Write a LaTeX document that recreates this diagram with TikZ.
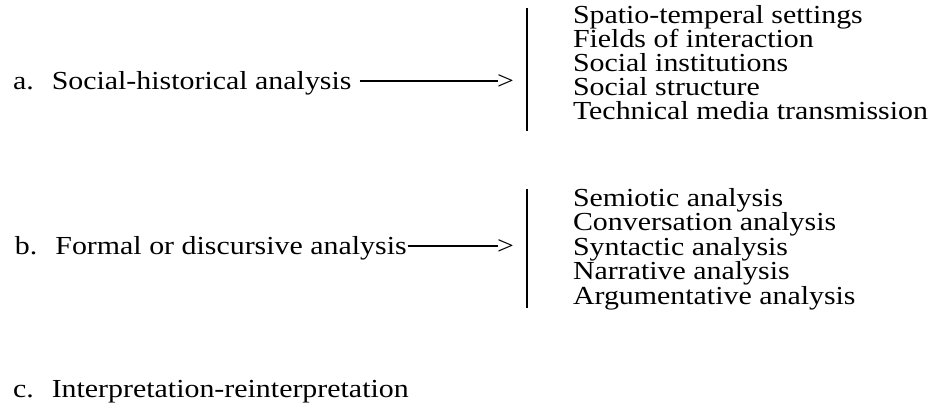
\documentclass[tikz,border=0pt]{standalone}
\usepackage{fontspec}
\setmainfont[FakeStretch=1.15]{Liberation Serif}
\begin{document}
\begin{tikzpicture}[x=1pt,y=-1pt,
  every node/.style={inner sep=0pt,outer sep=0pt,anchor=base west,font=\fontsize{26}{26}\selectfont},
  bar/.style={line width=2.4pt},
  conn/.style={line width=1.4pt}]
\useasboundingbox (0,0) rectangle (935,416);
% left labels
\node (a) at (13,89) {a.\hspace{18pt}Social-historical analysis};
\node (b) at (15,254) {b.\hspace{18pt}Formal or discursive analysis};
\node (c) at (13,397) {c.\hspace{18pt}Interpretation-reinterpretation};
% arrow tips
\node (atip) at (497,89) {>};
\node (btip) at (497,254) {>};
% connectors
\draw[conn] ([xshift=8pt,yshift=8pt]a.base east) -- ([xshift=1pt,yshift=8pt]atip.base west);
\draw[conn] ([xshift=1pt,yshift=8pt]b.base east) -- ([xshift=1pt,yshift=8pt]btip.base west);
% bars
\coordinate (b1t) at (527,8);
\coordinate (b1b) at (527,131);
\coordinate (b2t) at (527,189);
\coordinate (b2b) at (527,308);
\draw[bar] (b1t) -- (b1b);
\draw[bar] (b2t) -- (b2b);
% group 1
\node (s1) at (573,23) {Spatio-temperal settings};
\node (s2) at (573,47) {Fields of interaction};
\node (s3) at (573,71) {Social institutions};
\node (s4) at (573,95) {Social structure};
\node (s5) at (573,119) {Technical media transmission};
% group 2
\node (t1) at (573,206) {Semiotic analysis};
\node (t2) at (573,230) {Conversation analysis};
\node (t3) at (573,255) {Syntactic analysis};
\node (t4) at (573,279) {Narrative analysis};
\node (t5) at (573,304) {Argumentative analysis};
\end{tikzpicture}
\end{document}
